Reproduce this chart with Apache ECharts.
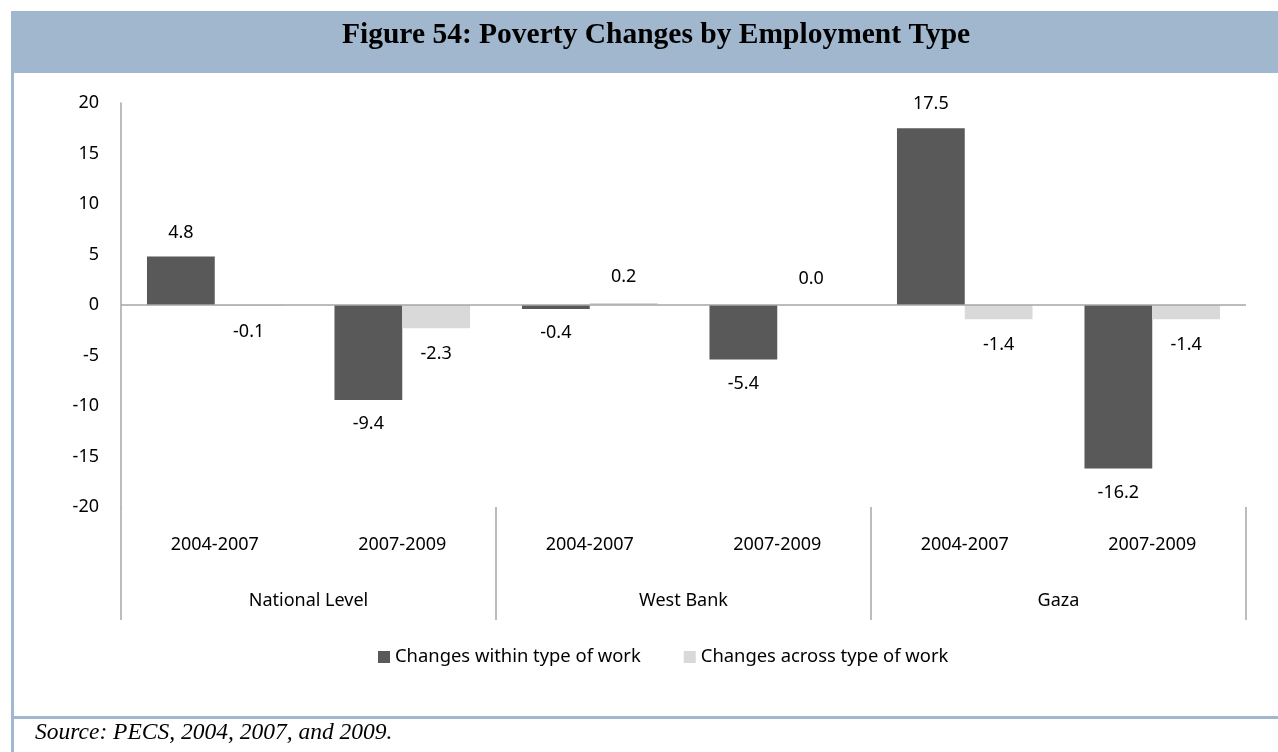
<!DOCTYPE html>
<html>
<head>
<meta charset="utf-8">
<script src="https://cdn.jsdelivr.net/npm/echarts@6/dist/echarts.min.js"></script>
<style>
  html, body { margin: 0; padding: 0; background: #fff; }
  #chart { width: 1278px; height: 752px; }
</style>
</head>
<body>
<div id="chart"></div>
<script>
// Periods within each region, and the regions they belong to
const periods = ['2004-2007', '2007-2009', '2004-2007', '2007-2009', '2004-2007', '2007-2009'];
const regions = ['National Level', 'West Bank', 'Gaza'];

// Poverty change decomposition (percentage points)
const withinType = [4.8, -9.4, -0.4, -5.4, 17.5, -16.2];
const acrossType = [-0.1, -2.3, 0.2, 0.0, -1.4, -1.4];

const yTicks = { min: -20, max: 20, step: 5 };

const FONT = '"Noto Sans", "Liberation Sans", sans-serif';
const FS = 18;
const FRAME = '#A1B7CE';

function labelled(values) {
  return values.map(v => ({
    value: v,
    label: { position: v < 0 ? 'bottom' : 'top' }
  }));
}

const chart = echarts.init(document.getElementById('chart'), null, { renderer: 'canvas' });

chart.setOption({
  backgroundColor: '#fff',
  animation: false,
  graphic: [
    { type: 'rect', shape: { x: 11, y: 11, width: 1267, height: 62 }, style: { fill: FRAME }, z: 0 },
    { type: 'rect', shape: { x: 11, y: 73, width: 3, height: 679 }, style: { fill: FRAME }, z: 0 },
    { type: 'rect', shape: { x: 11, y: 716, width: 1267, height: 3 }, style: { fill: FRAME }, z: 0 },
    {
      type: 'text', left: 342, top: 20, z: 1,
      style: {
        text: 'Figure 54: Poverty Changes by Employment Type',
        font: 'bold 29.5px "Liberation Serif", "Times New Roman", serif',
        fill: '#000'
      }
    },
    {
      type: 'text', left: 35, top: 721, z: 1,
      style: {
        text: 'Source: PECS, 2004, 2007, and 2009.',
        font: 'italic 23.5px "Liberation Serif", "Times New Roman", serif',
        fill: '#000'
      }
    }
  ],
  legend: {
    left: 373,
    top: 643,
    icon: 'rect',
    itemWidth: 12,
    itemHeight: 12,
    itemGap: 43,
    textStyle: { fontFamily: FONT, fontSize: 18.4, color: '#000' },
    data: ['Changes within type of work', 'Changes across type of work']
  },
  grid: { left: 121, right: 32, top: 103, bottom: 245, containLabel: false },
  xAxis: [
    {
      type: 'category',
      data: periods,
      position: 'bottom',
      axisLine: { show: false },
      axisTick: { show: false },
      axisLabel: { margin: 29, fontFamily: FONT, fontSize: FS, color: '#000', interval: 0 }
    },
    {
      type: 'category',
      data: regions,
      position: 'bottom',
      axisLine: { show: false },
      axisTick: { show: true, length: 113, lineStyle: { color: '#A6A6A6', width: 1.5 } },
      axisLabel: { margin: 85, fontFamily: FONT, fontSize: FS, color: '#000', interval: 0 }
    }
  ],
  yAxis: {
    type: 'value',
    min: yTicks.min,
    max: yTicks.max,
    interval: yTicks.step,
    axisLine: { show: true, lineStyle: { color: '#A6A6A6', width: 1.5 } },
    axisTick: { show: false },
    splitLine: { show: false },
    axisLabel: { margin: 22, fontFamily: FONT, fontSize: FS, color: '#000' }
  },
  series: [
    {
      name: 'Changes within type of work',
      type: 'bar',
      xAxisIndex: 0,
      data: labelled(withinType),
      barGap: '0%',
      barCategoryGap: '27.7%',
      itemStyle: { color: '#595959' },
      label: {
        show: true, distance: 15,
        fontFamily: FONT, fontSize: FS, color: '#000',
        formatter: p => p.value.toFixed(1)
      },
      markLine: {
        silent: true,
        symbol: 'none',
        label: { show: false },
        lineStyle: { color: '#A6A6A6', width: 1.5, type: 'solid' },
        data: [{ yAxis: 0 }]
      }
    },
    {
      name: 'Changes across type of work',
      type: 'bar',
      xAxisIndex: 0,
      data: labelled(acrossType),
      barGap: '0%',
      barCategoryGap: '27.7%',
      itemStyle: { color: '#D9D9D9' },
      label: {
        show: true, distance: 17,
        fontFamily: FONT, fontSize: FS, color: '#000',
        formatter: p => p.value.toFixed(1)
      }
    }
  ]
});
</script>
</body>
</html>
